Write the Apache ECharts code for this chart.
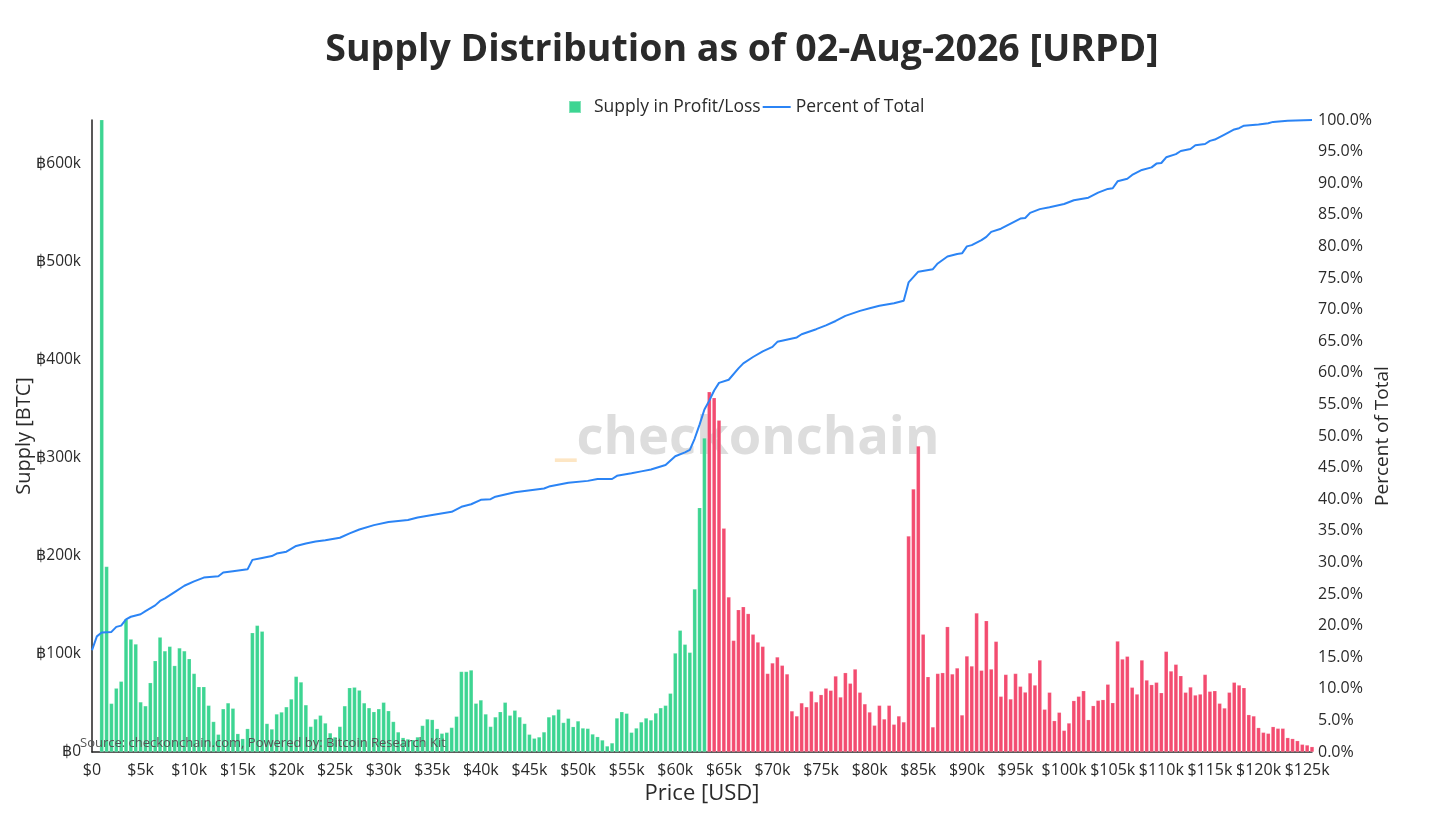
<!DOCTYPE html>
<html>
<head>
<meta charset="utf-8">
<script src="https://cdn.jsdelivr.net/npm/echarts@6/dist/echarts.min.js"></script>
<style>
html,body{margin:0;padding:0;background:#fff;}
#chart{width:1440px;height:820px;}
</style>
</head>
<body>
<div id="chart"></div>
<script>
// ---- DATA ----
const titleText = 'Supply Distribution as of 02-Aug-2026 [URPD]';
const firstBinUSD = 1000;      // first price bin
const binSizeUSD = 500;        // bin width
const currentPriceUSD = 63250; // bins below are in profit
// Supply per $500 bin, thousands of BTC ($1,000 ... $125,500)
const supplyK = [
  700, 189, 49.5, 65, 72, 135.5, 115, 110, 51, 47,
  70.6, 93, 117, 103, 107.6, 88, 106, 103, 95, 80,
  66.5, 66.5, 47.5, 31, 18, 44, 50, 44.5, 18.7, 13.6,
  23.8, 121.5, 129, 123, 29, 23.4, 38.7, 40.7, 46, 54,
  77,
  71.3, 48, 26, 33.6, 37.4, 29.5, 19.4, 15.3, 26, 47,
  65.5, 66, 63, 50, 45, 41, 44, 50.6, 42, 31,
  20.4, 14.6, 13.2, 12.5, 15.3, 27, 33.6, 33, 23.8, 19,
  20, 25, 36.3, 82, 82, 83.5, 49.6, 53, 38.7, 26,
  35.7, 41,
  50.6, 37.4, 42.5, 35.7, 29, 18, 14, 15.3, 20.4, 35.7,
  37.7, 43.5, 30, 34.3, 25.8, 31.6, 24.4, 24, 18.3, 15.6,
  12.2, 6.1, 9.2, 34.6, 41, 39.4, 20, 24.4, 30.6, 34.6,
  32.6, 39.7, 45, 47.5, 59.8, 100.8, 124, 109.7, 101.5, 166,
  249, 320,
  367, 361, 338, 228, 158, 113.7, 145, 148, 141, 120,
  112, 107.6, 80, 90.7, 96.8, 88.3, 79.5, 41.8, 36.7, 50,
  46, 62, 51, 58.4, 65, 62.8, 77.4, 56, 80.8, 70,
  84.5, 60.8, 49, 40.7, 27.2, 47.5, 33.6, 47.5, 28.2, 36.7,
  30.6, 220, 268,
  311.7, 120, 76.7, 25.5, 80, 80.8, 127.7, 79.5, 85.6, 37.7,
  97.8, 87.6, 141.6, 83.2, 133.8, 84.5, 112.7, 56.7, 79, 54,
  80, 66.9, 61, 80.5, 68.2, 93.7, 43.5, 60.8, 31.9, 40.4,
  22, 29.5, 52.3, 56.7, 62.4, 32.9, 47.2, 52.6, 53.3, 69,
  50.2,
  113, 94.7, 97.5, 65.9, 59, 93.7, 73.3, 68.6, 71, 60.4,
  102.5, 82.5, 89.3, 77.7, 60.8, 66.2, 58, 59, 79, 61.8,
  62.4, 49.6, 44.8, 60.8, 71, 68.2, 65.5, 38, 36.7, 24.8,
  20, 19, 25.8, 24.1, 24.1, 14.6, 13.6, 11.5, 7.8, 7.1,
  5.4
];
// Cumulative percent of total supply: [price USD, percent]
const pctPrice = [0, 500, 1000, 2000, 2500, 3000, 3500, 4000, 5000, 5500, 6500, 7000, 7500, 8500, 9500, 10500, 11500, 13000, 13500, 14500, 16000, 16500, 17500, 18500, 19000, 20000, 21000, 22000, 23000, 24000, 25500, 26500, 27500, 29000, 30500, 32500, 33500, 35000, 37000, 38000, 39000, 40000, 41000, 41500, 43500, 46500, 47000, 49000, 51000, 52000, 53500, 54000, 55500, 56500, 57500, 59000, 60000, 61000, 61500, 62000, 62500, 63000, 63500, 64000, 64500, 65500, 66500, 67000, 68000, 69000, 70000, 70500, 72500, 73000, 74500, 75500, 76500, 77500, 79000, 80000, 81000, 82500, 83500, 84000, 85000, 86500, 87000, 88000, 89000, 89500, 90000, 90500, 91500, 92000, 92500, 93500, 94500, 95500, 96000, 96500, 97500, 98500, 100000, 101000, 102500, 103500, 104500, 105000, 105500, 106500, 107000, 108000, 109000, 109500, 110000, 110500, 111500, 112000, 113000, 113500, 114500, 115000, 115500, 116000, 116500, 117500, 118000, 118500, 120000, 121000, 121500, 123000, 125500];
const pctValue = [16.1, 18.3, 18.9, 19.0, 19.8, 20.0, 21.0, 21.4, 21.8, 22.3, 23.2, 23.9, 24.3, 25.3, 26.3, 27.0, 27.6, 27.8, 28.4, 28.6, 28.9, 30.4, 30.7, 31.0, 31.4, 31.7, 32.6, 33.0, 33.3, 33.5, 33.9, 34.6, 35.2, 35.9, 36.4, 36.7, 37.1, 37.5, 38.0, 38.8, 39.2, 39.9, 40.0, 40.4, 41.1, 41.7, 42.0, 42.6, 42.9, 43.2, 43.2, 43.7, 44.1, 44.4, 44.7, 45.4, 46.8, 47.4, 47.8, 49.6, 51.8, 54.2, 55.6, 57.2, 58.4, 58.9, 60.7, 61.5, 62.5, 63.4, 64.1, 64.9, 65.6, 66.1, 66.9, 67.5, 68.2, 69.0, 69.8, 70.2, 70.6, 71.0, 71.4, 74.3, 76.0, 76.4, 77.3, 78.4, 78.8, 78.9, 80.0, 80.2, 81.0, 81.5, 82.3, 82.8, 83.6, 84.4, 84.5, 85.3, 85.9, 86.2, 86.7, 87.3, 87.7, 88.5, 89.1, 89.2, 90.3, 90.7, 91.3, 92.1, 92.5, 93.1, 93.2, 94.1, 94.6, 95.1, 95.4, 96.0, 96.2, 96.7, 96.9, 97.3, 97.7, 98.5, 98.7, 99.1, 99.3, 99.5, 99.7, 99.9, 100.0];

// ---- STYLE ----
const GREEN = '#3dd592';
const RED = '#f34c70';
const BLUE = '#2b84f5';
const TXT = '#2a2a2a';
const FONT = '"Open Sans", "Liberation Sans", sans-serif';

const barData = supplyK.map((v, i) => {
  const price = firstBinUSD + i * binSizeUSD;
  return { value: [price, v], itemStyle: { color: price < currentPriceUSD ? GREEN : RED } };
});
const lineData = pctPrice.map((p, i) => [p, pctValue[i]]);
const xMax = firstBinUSD + (supplyK.length - 1) * binSizeUSD;

const chart = echarts.init(document.getElementById('chart'), null, { renderer: 'canvas' });
chart.setOption({
  backgroundColor: '#ffffff',
  textStyle: { fontFamily: FONT, color: TXT },
  title: {
    text: titleText, left: 737, top: 26, textAlign: 'center',
    textStyle: { fontSize: 37.5, fontWeight: 'bold', color: TXT, fontFamily: FONT }
  },
  legend: {
    top: 93, left: 563, itemGap: 2, itemWidth: 28, itemHeight: 12,
    textStyle: { fontSize: 17.5, color: TXT, fontFamily: FONT },
    data: [
      { name: 'Supply in Profit/Loss', icon: 'path://M0,0 h12 v12 h-12z', itemStyle: { color: GREEN } },
      { name: 'Percent of Total', icon: 'path://M0,0 h28 v2 h-28z', itemStyle: { color: BLUE } }
    ]
  },
  grid: { left: 92, right: 128, top: 120, bottom: 68, containLabel: false, outerBoundsMode: 'none' },
  graphic: [
    {
      type: 'text', left: 555, top: 413, z: 0, silent: true,
      style: {
        rich: {
          u: { fontSize: 52.5, fontWeight: 'bold', fill: '#fde6c4', fontFamily: FONT },
          c: { fontSize: 52.5, fontWeight: 'bold', fill: '#dddddd', fontFamily: FONT }
        },
        text: '{u|_}{c|checkonchain}'
      }
    },
    {
      type: 'text', left: 80, top: 737, z: 100, silent: true,
      style: { text: 'Source: checkonchain.com, Powered by: Bitcoin Research Kit', fontSize: 13, fill: '#555555', fontFamily: FONT }
    }
  ],
  xAxis: {
    type: 'value', min: 0, max: xMax, interval: 5000,
    name: 'Price [USD]', nameLocation: 'middle', nameGap: 30,
    nameTextStyle: { fontSize: 22, color: TXT, fontFamily: FONT },
    axisLine: { show: true, lineStyle: { color: '#222', width: 1.5 } },
    axisTick: { show: false },
    splitLine: { show: false },
    axisLabel: {
      fontSize: 16, color: TXT, margin: 10, fontFamily: FONT,
      formatter: v => (v % 5000 !== 0) ? '' : (v === 0 ? '$0' : '$' + (v / 1000) + 'k')
    }
  },
  yAxis: [
    {
      type: 'value', min: 0, max: 644, interval: 100,
      name: 'Supply [BTC]', nameLocation: 'middle', nameGap: 58, nameRotate: 90, nameMoveOverlap: false,
      nameTextStyle: { fontSize: 20, color: TXT, fontFamily: FONT },
      axisLine: { show: true, lineStyle: { color: '#222', width: 1.5 } },
      axisTick: { show: false },
      splitLine: { show: false },
      axisLabel: {
        fontSize: 15.5, color: TXT, margin: 11, fontFamily: FONT,
        formatter: v => (v % 100 !== 0) ? '' : (v === 0 ? '฿0' : '฿' + v + 'k')
      }
    },
    {
      type: 'value', min: 0, max: 100, interval: 5, position: 'right',
      name: 'Percent of Total', nameLocation: 'middle', nameGap: 61, nameRotate: 90, nameMoveOverlap: false,
      nameTextStyle: { fontSize: 19, color: TXT, fontFamily: FONT },
      axisLine: { show: false },
      axisTick: { show: false },
      splitLine: { show: false },
      axisLabel: { fontSize: 16, color: TXT, margin: 6, fontFamily: FONT, formatter: v => v.toFixed(1) + '%' }
    }
  ],
  series: [
    {
      name: 'Supply in Profit/Loss', type: 'bar', xAxisIndex: 0, yAxisIndex: 0,
      barWidth: 4.1, clip: true, z: 2,
      itemStyle: { color: GREEN, borderColor: 'rgba(255,255,255,0.35)', borderWidth: 0.5 },
      data: barData
    },
    {
      name: 'Percent of Total', type: 'line', xAxisIndex: 0, yAxisIndex: 1,
      showSymbol: false, smooth: false, z: 5,
      lineStyle: { color: BLUE, width: 2 },
      itemStyle: { color: BLUE },
      data: lineData
    }
  ],
  animation: false
});
</script>
</body>
</html>
